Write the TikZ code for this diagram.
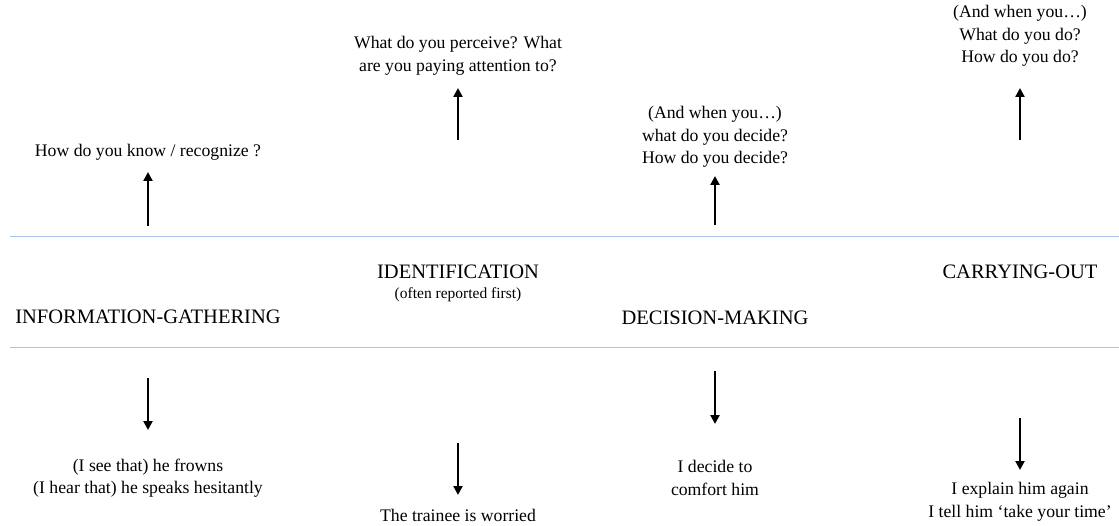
\documentclass[tikz,border=0pt]{standalone}
\usepackage{fontspec}
\setmainfont{Liberation Serif}
\usetikzlibrary{arrows.meta}
\begin{document}
\begin{tikzpicture}[x=1pt,y=-1pt,
  txt/.style={align=center,font=\fontsize{17.7}{22.5}\selectfont,inner sep=0pt},
  stage/.style={font=\fontsize{20.5}{24}\selectfont,inner sep=0pt},
  note/.style={font=\fontsize{15.5}{18}\selectfont,inner sep=0pt},
  arr/.style={-{Triangle[length=9pt,width=9pt]},line width=2.4pt},
  sep/.style={draw={rgb,255:red,169;green,196;blue,232},line width=1pt}]
\useasboundingbox (0,0) rectangle (1119,526);
% separators between questions, stages and examples
\draw[sep] (10,237) -- (1119,237);
\draw[sep] (10,348) -- (1119,348);
% stages
\node[stage] (s1) at (148,317) {INFORMATION-GATHERING};
\node[stage] (s2) at (458,272) {IDENTIFICATION};
\node[note]  (s2n) at (458,295) {(often reported first)};
\node[stage] (s3) at (715,318) {DECISION-MAKING};
\node[stage] (s4) at (1020,272) {CARRYING-OUT};
% questions
\node[txt] (q1) at (148,152) {How do you know / recognize ?};
\node[txt] (q2) at (458,56) {What do you perceive? What\\are you paying attention to?};
\node[txt] (q3) at (715,137) {(And when you\ldots)\\what do you decide?\\How do you decide?};
\node[txt] (q4) at (1020,36) {(And when you\ldots)\\What do you do?\\How do you do?};
% examples
\node[txt] (e1) at (148,478) {(I see that) he frowns\\(I hear that) he speaks hesitantly};
\node[txt] (e2) at (458,515) {The trainee is worried};
\node[txt] (e3) at (715,478) {I decide to\\comfort him};
\node[txt] (e4) at (1020,502) {I explain him again\\I tell him ‘take your time’};
% arrow anchors
\coordinate (u1a) at (148,226); \coordinate (u1b) at (148,172);
\coordinate (u2a) at (458,140); \coordinate (u2b) at (458,88);
\coordinate (u3a) at (715,225); \coordinate (u3b) at (715,176);
\coordinate (u4a) at (1020,140); \coordinate (u4b) at (1020,88);
\coordinate (d1a) at (148,378); \coordinate (d1b) at (148,430);
\coordinate (d2a) at (458,443); \coordinate (d2b) at (458,495);
\coordinate (d3a) at (715,371); \coordinate (d3b) at (715,424);
\coordinate (d4a) at (1020,418); \coordinate (d4b) at (1020,470);
\foreach \i in {1,2,3,4}{
  \draw[arr] (u\i a) -- (u\i b);
  \draw[arr] (d\i a) -- (d\i b);
}
\end{tikzpicture}
\end{document}
